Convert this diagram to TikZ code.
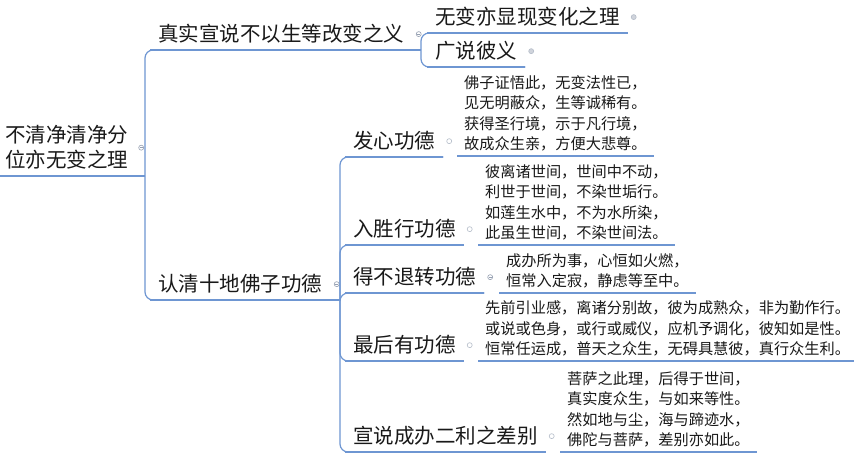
\documentclass[tikz,border=0pt]{standalone}
\usepackage{fontspec}
\setmainfont{Noto Sans CJK SC}
\definecolor{mapblue}{RGB}{110,150,210}
\definecolor{knobgray}{RGB}{150,160,178}
\definecolor{inkgray}{RGB}{25,25,25}
\usepackage{tikz}
\usetikzlibrary{positioning}

\begin{document}
\begin{tikzpicture}[x=1pt,y=-1pt,
      uline/.style={draw=mapblue,line width=1.2pt},
      link/.style={draw=mapblue,line width=1.2pt,rounded corners=8pt},
      topic/.style={anchor=south west,align=left,inner xsep=8pt,inner ysep=5.5pt,
                    text depth=3pt,font=\fontsize{20.5}{25}\selectfont,text=inkgray,
                    append after command={(\tikzlastnode.south west) edge[uline] (\tikzlastnode.south east)}},
      note/.style={topic,inner xsep=7pt,inner ysep=4.5pt,text depth=2pt,
                   font=\fontsize{15.2}{20.3}\selectfont},
      knob/.style={circle,draw=knobgray,line width=0.6pt,minimum size=5pt,inner sep=0pt,
                   path picture={\draw[knobgray,line width=0.5pt]
                     ([xshift=-1.5pt]path picture bounding box.center) --
                     ([xshift=1.5pt]path picture bounding box.center);}},
      leaf/.style={circle,draw=knobgray!70,fill=knobgray!45,line width=0.6pt,minimum size=5pt,inner sep=0pt},
      ring/.style={circle,draw=knobgray!70,line width=0.6pt,minimum size=5pt,inner sep=0pt}]
  \useasboundingbox[fill=white] (0,0) rectangle (854,460);

  \node[topic,inner xsep=5pt] (root) at (0,176) {不清净清净分\\位亦无变之理};
  \node[topic] (fact) at (150,50) {真实宣说不以生等改变之义};
  \node[topic] (tenth) at (150,300) {认清十地佛子功德};
  \node[topic] (change) at (427,33) {无变亦显现变化之理};
  \node[topic] (wide) at (427,67) {广说彼义};
  \node[topic] (mind) at (345,157) {发心功德};
  \node[topic] (walk) at (345,245) {入胜行功德};
  \node[topic] (firm) at (345,293) {得不退转功德};
  \node[topic] (last) at (345,361) {最后有功德};
  \node[topic] (diff) at (345,452) {宣说成办二利之差别};

  \node[note] (mindtxt) at (457,156) {佛子证悟此，无变法性已，\\见无明蔽众，生等诚稀有。\\获得圣行境，示于凡行境，\\故成众生亲，方便大悲尊。};
  \node[note] (walktxt) at (478,245) {彼离诸世间，世间中不动，\\利世于世间，不染世垢行。\\如莲生水中，不为水所染，\\此虽生世间，不染世间法。};
  \node[note] (firmtxt) at (499,293) {成办所为事，心恒如火燃，\\恒常入定寂，静虑等至中。};
  \node[note] (lasttxt) at (478,361) {先前引业感，离诸分别故，彼为成熟众，非为勤作行。\\或说或色身，或行或威仪，应机予调化，彼知如是性。\\恒常任运成，普天之众生，无碍具慧彼，真行众生利。};
  \node[note] (difftxt) at (560,452) {菩萨之此理，后得于世间，\\真实度众生，与如来等性。\\然如地与尘，海与蹄迹水，\\佛陀与菩萨，差别亦如此。};

  \node[knob,right=5pt of root] (rootk) {};
  \node[knob,right=3.5pt of fact] (factk) {};
  \node[knob,right=3.5pt of tenth] (tenthk) {};
  \node[leaf,right=3pt of change] (changek) {};
  \node[leaf,right=3pt of wide] (widek) {};
  \node[ring,right=3pt of mind] (mindk) {};
  \node[ring,right=3pt of walk] (walkk) {};
  \node[knob,right=3pt of firm] (firmk) {};
  \node[ring,right=3pt of last] (lastk) {};
  \node[ring,right=3pt of diff] (diffk) {};

  \coordinate (trunk) at (145,176);
  \coordinate (forkA) at (421,50);
  \coordinate (forkB) at (340,300);
  \draw[link] (root.south east) -- (trunk);
  \draw[link] (trunk) |- (fact.south east);
  \draw[link] (trunk) |- (tenth.south east);
  \draw[link] (fact.south east) -- (forkA);
  \draw[link] (forkA) |- (change.south east);
  \draw[link] (forkA) |- (wide.south east);
  \draw[link] (tenth.south east) -- (forkB);
  \draw[link] (forkB) |- (mind.south east);
  \draw[link] (forkB) |- (walk.south east);
  \draw[link] (forkB) |- (firm.south east);
  \draw[link] (forkB) |- (last.south east);
  \draw[link] (forkB) |- (diff.south east);
\end{tikzpicture}
\end{document}
